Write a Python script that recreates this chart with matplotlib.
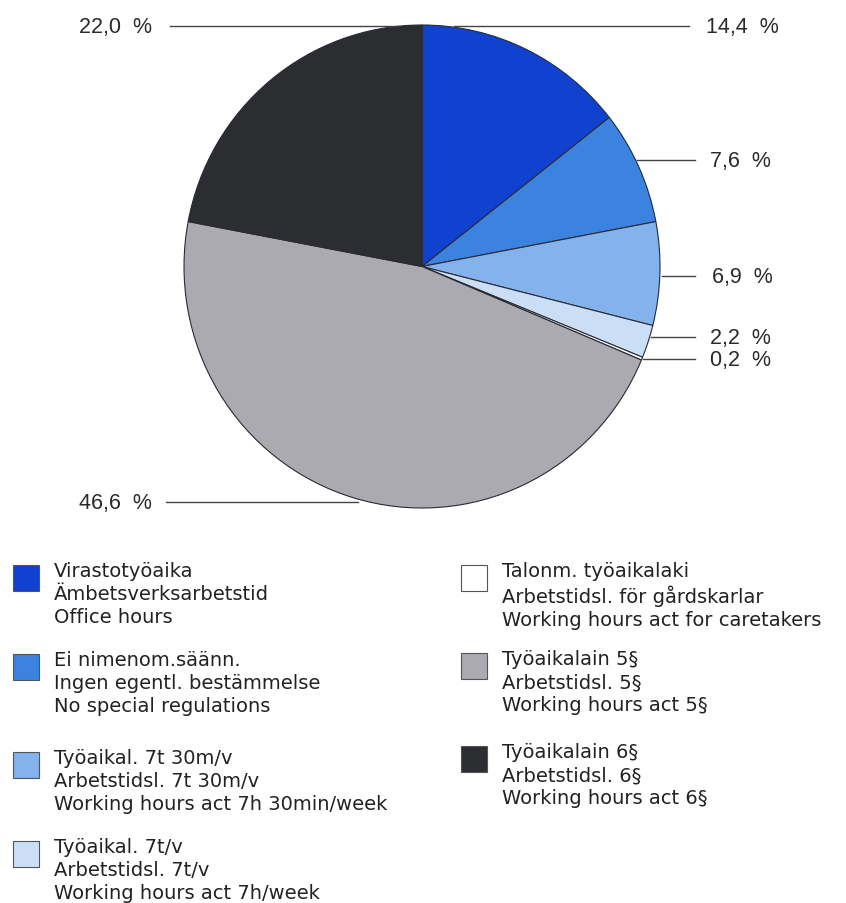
#!/usr/bin/env python3

# Pie chart of working-hour regulations, with leader-line labels and
# a two-column legend drawn below the pie.

import matplotlib
matplotlib.use("Agg")
import matplotlib.pyplot as plt
from matplotlib.patches import Rectangle

W, H = 846, 904

# data, clockwise from 12 o'clock
shares = [14.4, 7.6, 6.9, 2.2, 0.2, 46.6, 22.0]
labels_fi = ["Virastotyöaika", "Ei nimenom.säänn.", "Työaikal. 7t 30m/v",
             "Työaikal. 7t/v", "Talonm. työaikalaki", "Työaikalain 5§",
             "Työaikalain 6§"]
labels_sv = ["Ämbetsverksarbetstid", "Ingen egentl. bestämmelse",
             "Arbetstidsl. 7t 30m/v", "Arbetstidsl. 7t/v",
             "Arbetstidsl. för gårdskarlar", "Arbetstidsl. 5§",
             "Arbetstidsl. 6§"]
labels_en = ["Office hours", "No special regulations",
             "Working hours act 7h 30min/week", "Working hours act 7h/week",
             "Working hours act for caretakers", "Working hours act 5§",
             "Working hours act 6§"]

colors = ["#1142cf", "#3b83de", "#84b2ec", "#cadff6", "#ffffff",
          "#aaaab0", "#2b2d31"]

# label layout in pixels: (line x0, line x1, line y, text x, ha)
label_pos = [
    (454, 689, 27, 706, "left"),
    (637, 695, 161, 710, "left"),
    (662, 695, 277, 712, "left"),
    (651, 695, 338, 710, "left"),
    (643, 695, 360, 710, "left"),
    (166, 358, 503, 152, "right"),
    (170, 398, 27, 152, "right"),
]

# legend layout: (column x of box, box top y)
legend_pos = [(13, 566), (13, 655), (13, 753), (13, 842),
              (461, 566), (461, 654), (461, 747)]

fig = plt.figure(figsize=(W / 100, H / 100), dpi=100)

# pie axes placed over the pixel box of the circle
left, right, top, bottom = 184, 660, 26, 509
pax = fig.add_axes([left / W, 1 - bottom / H, (right - left) / W, (bottom - top) / H])
pax.pie(shares, colors=colors, startangle=90, counterclock=False,
        wedgeprops=dict(edgecolor="#2a2a35", linewidth=0.8))
pax.set_aspect("auto")
pax.set_xlim(-1, 1)
pax.set_ylim(-1, 1)
pax.axis("off")

# overlay in pixel coordinates for labels and legend
ax = fig.add_axes([0, 0, 1, 1], zorder=3)
ax.set_xlim(0, W)
ax.set_ylim(H, 0)
ax.axis("off")
ax.patch.set_alpha(0)

pct_font = ["Liberation Sans", "DejaVu Sans"]
for v, (x0, x1, y, tx, ha) in zip(shares, label_pos):
    ax.plot([x0, x1], [y, y], color="#444444", lw=1.0)
    txt = f"{v:.1f}".replace(".", ",") + "  %"
    ax.text(tx, y + 1, txt, ha=ha, va="center", fontsize=15.5,
            family=pct_font, color="#2a2a2a")

for i, (bx, by) in enumerate(legend_pos):
    ax.add_patch(Rectangle((bx, by), 26, 26, facecolor=colors[i],
                           edgecolor="#555555", lw=0.8))
    block = "\n".join([labels_fi[i], labels_sv[i], labels_en[i]])
    ax.text(bx + 41, by - 4, block, ha="left", va="top", fontsize=14,
            linespacing=1.27, family="DejaVu Sans", color="#222222")

fig.savefig("out.png", dpi=100)
